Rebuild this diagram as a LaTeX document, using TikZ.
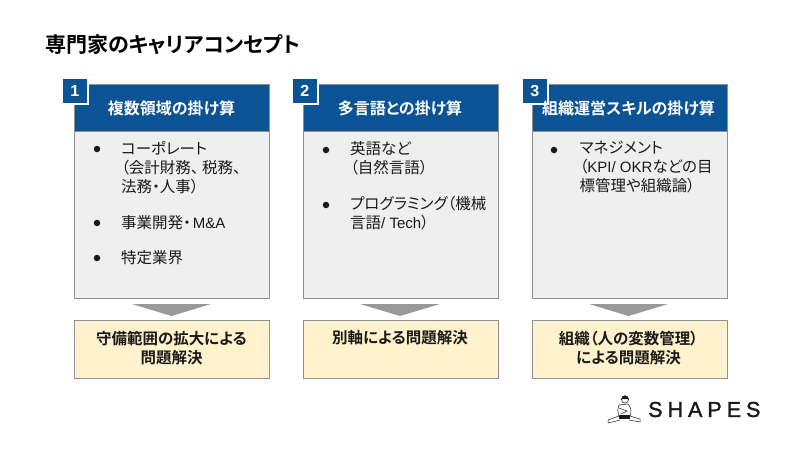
\documentclass[tikz,border=0pt]{standalone}
\usepackage{fontspec}
\setmainfont[RawFeature=+palt]{Noto Sans CJK JP}
\newfontfamily\bld[RawFeature=+palt]{Noto Sans CJK JP Bold}
\newfontfamily\latn{Liberation Sans}
\newfontfamily\logofont[FakeBold=1.6]{Liberation Sans}
\newcommand{\lat}[1]{{\latn\fontsize{15}{19}\selectfont #1}}
\definecolor{navy}{HTML}{0B5394}
\definecolor{panel}{HTML}{EFEFEF}
\definecolor{cream}{HTML}{FFF2CC}
\definecolor{edge}{HTML}{8F8F8F}
\definecolor{arrowgray}{HTML}{999999}
\definecolor{ink}{HTML}{1A1A1A}
\tikzset{
 x=1pt,y=-1pt,
 head/.style={draw=edge,fill=navy,line width=.9pt,minimum width=195pt,minimum height=47pt,anchor=north west,inner sep=0pt},
 headtext/.style={inner sep=0pt,text=white,font=\bld\fontsize{16}{19}\selectfont},
 body/.style={draw=edge,fill=panel,line width=.9pt,minimum width=195pt,minimum height=167pt,anchor=north west,inner sep=0pt},
 result/.style={draw=edge,fill=cream,line width=.9pt,minimum width=195pt,minimum height=58pt,anchor=north west,inner sep=0pt},
 restext/.style={anchor=north,inner sep=0pt,align=center,text=ink,font=\bld\fontsize{15.5}{19}\selectfont},
 badge/.style={draw=white,fill=navy,line width=1.6pt,minimum width=26pt,minimum height=26pt,anchor=north west,inner sep=0pt,text=white,font=\latn\bfseries\fontsize{16}{16}\selectfont},
 dotb/.style={circle,fill=ink,minimum size=6.5pt,inner sep=0pt},
 item/.style={anchor=north west,inner sep=0pt,align=left,text=ink,font=\fontsize{15.5}{19}\selectfont},
 tri/.style={fill=arrowgray,draw=none},
}
\begin{document}
\begin{tikzpicture}
\useasboundingbox (0,0) rectangle (800,450);
\fill[white] (0,0) rectangle (800,450);
\node[anchor=west,inner sep=0pt,font=\bld\fontsize{21}{24}\selectfont] (title) at (45,45) {専門家のキャリアコンセプト};

% column 1
\node[body] (b1) at (74,131) {};
\node[head] (h1) at (74,84) {};
\node[badge] (n1) at (61,77) {1};
\node[headtext] (ht1) at (171.5,108) {複数領域の掛け算};
\node[result] (r1) at (74,320) {};
\node[restext] (rt1) at (171.5,330.5) {守備範囲の拡大による\\問題解決};
\fill[tri] (132,304) -- (211,304) -- (171.5,316) -- cycle;
\node[dotb] (d11) at (97,149) {};
\node[item] (t11) at (121,141) {コーポレート\\（会計財務、\kern3.5pt 税務、\\法務・人事）};
\node[dotb] (d12) at (97,223) {};
\node[item] (t12) at (121,215.5) {事業開発・\kern2pt\lat{M\&A}};
\node[dotb] (d13) at (97,258) {};
\node[item] (t13) at (121,250) {特定業界};

% column 2
\node[body] (b2) at (302.7,131) {};
\node[head] (h2) at (302.7,84) {};
\node[badge] (n2) at (291,77) {2};
\node[headtext] (ht2) at (400,108) {多言語との掛け算};
\node[result] (r2) at (302.7,320) {};
\node[restext] (rt2) at (400,330.5) {別軸による問題解決};
\fill[tri] (360,304) -- (440,304) -- (400,316) -- cycle;
\node[dotb] (d21) at (326,150) {};
\node[item] (t21) at (350,141) {英語など\\（自然言語）};
\node[dotb] (d22) at (326,205) {};
\node[item] (t22) at (350,196.5) {プログラミング（機械\\言語\lat{/ Tech}）};

% column 3
\node[body] (b3) at (531.5,131) {};
\node[head] (h3) at (531.5,84) {};
\node[badge] (n3) at (521,77) {3};
\node[headtext] (ht3) at (628.5,108) {組織運営スキルの掛け算};
\node[result] (r3) at (531.5,320) {};
\node[restext] (rt3) at (628.5,330.5) {組織（人の変数管理）\\による問題解決};
\fill[tri] (589,304) -- (668,304) -- (628.5,316) -- cycle;
\node[dotb] (d31) at (554,150) {};
\node[item] (t31) at (579.5,141) {マネジメント\\（\lat{KPI/ OKR}などの目\\標管理や組織論）};

% logo
\node[anchor=west,inner sep=0pt,font=\logofont\fontsize{21.5}{22}\selectfont,text=ink] (logo) at (648,409.5) {S\hspace{5pt}H\hspace{5pt}A\hspace{5pt}P\hspace{5pt}E\hspace{5pt}S};
\begin{scope}[line width=.5pt,draw=ink]
\draw[fill=white] (619,416) -- (608,420) -- (608,423) -- (620,420);
\draw[fill=white] (630,416) -- (640,419) -- (640,422) -- (629,420);
\draw[fill=white] (619,405) .. controls (617,410) and (618,413) .. (619,416) -- (630,416) .. controls (632,412) and (631,407) .. (628,404) -- cycle;
\draw (619,408) -- (627,411) -- (621,414);
\fill[ink] (618.5,414.5) rectangle (630,419);
\draw[fill=white] (625,399.5) circle (3.6pt);
\fill[ink] (621.4,399) arc (180:360:3.6pt and -3.6pt) -- cycle;
\end{scope}
\end{tikzpicture}
\end{document}
